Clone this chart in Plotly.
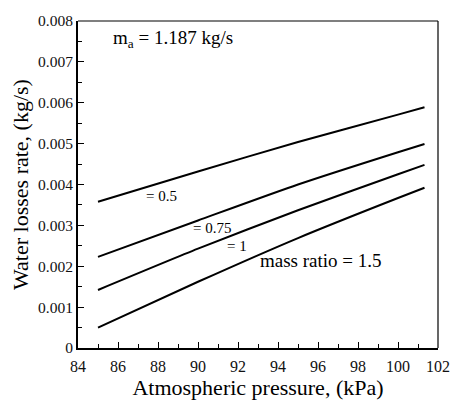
import plotly.graph_objects as go

# Atmospheric pressure (kPa) at which the water losses were evaluated
pressure = [85, 90, 95, 100, 101.325]

# Water losses rate (kg/s) for each mass ratio
loss_ratio_0_5 = [0.00358, 0.00432, 0.00504, 0.00571, 0.00589]
loss_ratio_0_75 = [0.00223, 0.00312, 0.00400, 0.00479, 0.00499]
loss_ratio_1 = [0.00142, 0.00243, 0.00337, 0.00425, 0.00448]
loss_ratio_1_5 = [0.00050, 0.00162, 0.00269, 0.00367, 0.00392]

series = [loss_ratio_0_5, loss_ratio_0_75, loss_ratio_1, loss_ratio_1_5]

y_tick_vals = [0, 0.001, 0.002, 0.003, 0.004, 0.005, 0.006, 0.007, 0.008]
y_tick_text = ["0", "0.001", "0.002", "0.003", "0.004", "0.005", "0.006", "0.007", "0.008"]
x_tick_vals = [84, 86, 88, 90, 92, 94, 96, 98, 100, 102]

FONT = "Liberation Serif"

fig = go.Figure()
for ys in series:
    fig.add_trace(go.Scatter(
        x=pressure, y=ys, mode="lines",
        line=dict(color="black", width=2, shape="spline", smoothing=0.6),
        showlegend=False, hoverinfo="skip",
    ))

axis_common = dict(
    showgrid=False, zeroline=False,
    showline=True, linecolor="black", linewidth=2,
    ticks="inside", ticklen=6, tickwidth=1, tickcolor="black",
)

fig.update_xaxes(
    range=[84, 102], tickvals=x_tick_vals,
    tickfont=dict(family=FONT, size=16, color="#111"),
    ticklabelstandoff=3,
    minor=dict(ticks="inside", ticklen=4, tickcolor="black", dtick=1, tick0=84),
    title=dict(text="Atmospheric pressure, (kPa)", font=dict(family=FONT, size=22, color="black"), standoff=2),
    **axis_common,
)
fig.update_yaxes(
    range=[0, 0.008], tickvals=y_tick_vals, ticktext=y_tick_text,
    tickfont=dict(family=FONT, size=15.5, color="#111"),
    minor=dict(ticks="inside", ticklen=4, tickcolor="black", dtick=0.0005, tick0=0),
    title=dict(text="Water losses rate, (kg/s)", font=dict(family=FONT, size=22, color="black"), standoff=3),
    **axis_common,
)

# thin frame on the top and right edges
fig.add_shape(type="line", xref="paper", yref="paper", x0=0, x1=1, y0=1, y1=1,
              line=dict(color="black", width=1.2))
fig.add_shape(type="line", xref="paper", yref="paper", x0=1, x1=1, y0=0, y1=1,
              line=dict(color="black", width=1.2))

labels = [
    ("m<sub>a</sub> = 1.187 kg/s", 85.64, 0.00757, 19, "left"),
    ("= 0.5", 88.16, 0.00372, 15, "center"),
    ("= 0.75", 90.72, 0.00294, 15, "center"),
    ("= 1", 91.93, 0.00249, 15, "center"),
    ("mass ratio = 1.5", 96.17, 0.00213, 19, "center"),
]
for text, x, y, size, align in labels:
    fig.add_annotation(
        x=x, y=y, text=text, showarrow=False,
        xanchor=align, yanchor="middle",
        font=dict(family=FONT, size=size, color="black"),
    )

fig.update_layout(
    width=462, height=405,
    margin=dict(l=78, r=12, t=20, b=47),
    paper_bgcolor="white", plot_bgcolor="white",
    font=dict(family=FONT, color="black"),
)

fig.write_html("out.html")
